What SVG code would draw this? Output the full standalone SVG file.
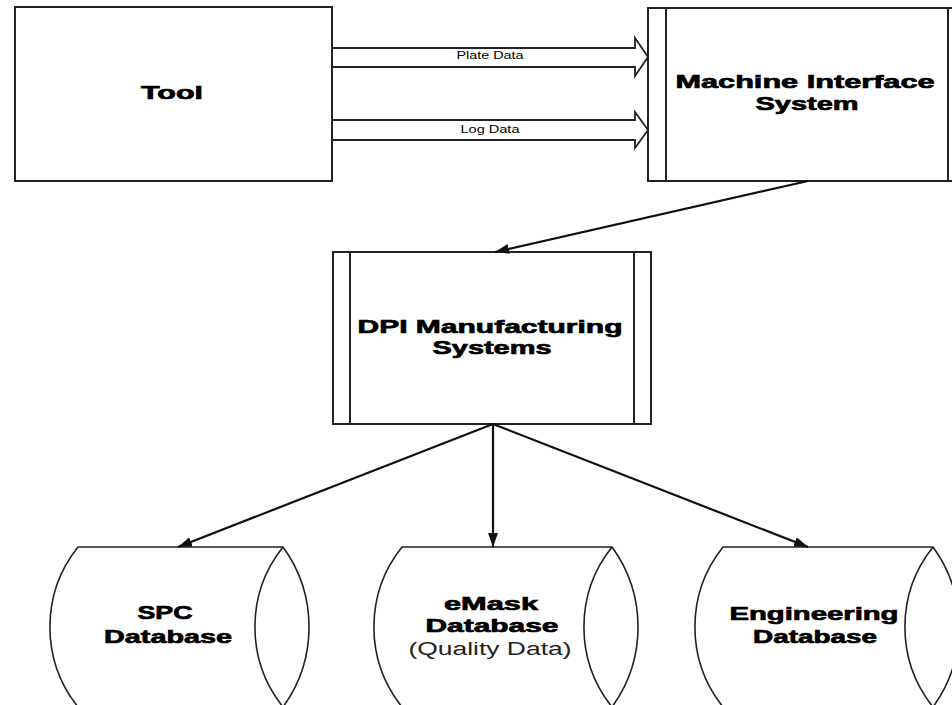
<svg xmlns="http://www.w3.org/2000/svg" width="952" height="705" viewBox="0 0 952 705">
<style>
.box{fill:#fff;stroke:#222;stroke-width:2}
.div{stroke:#222;stroke-width:2}
.cyl{fill:#fff;stroke:#222;stroke-width:1.6}
.flow{fill:none;stroke:#222;stroke-width:1.8}
.conn{fill:none;stroke:#111;stroke-width:2.2}
.t{font-family:"Liberation Sans",Arial,sans-serif;font-weight:bold;font-size:19px;fill:#000;stroke:#000;stroke-width:0.7;text-anchor:middle}
.r{font-family:"Liberation Sans",Arial,sans-serif;font-size:18px;fill:#222;text-anchor:middle}
.s{font-family:"Liberation Sans",Arial,sans-serif;font-size:10px;fill:#000;text-anchor:middle}
</style>
<defs>
<marker id="ah" markerUnits="userSpaceOnUse" markerWidth="16" markerHeight="12" refX="14" refY="5" orient="auto">
<path d="M0,0 L14,5 L0,10 z" fill="#111"/>
</marker>
</defs>
<rect width="952" height="705" fill="#fff"/>

<g id="tool">
<rect class="box" x="15" y="7" width="317" height="174"/>
<text class="t" x="172" y="99" textLength="62" lengthAdjust="spacingAndGlyphs">Tool</text>
</g>

<g id="mis">
<rect class="box" x="648" y="8" width="318" height="173"/>
<line class="div" x1="666" y1="8" x2="666" y2="181"/>
<line class="div" x1="948" y1="8" x2="948" y2="181"/>
<text class="t" x="805" y="88" textLength="259" lengthAdjust="spacingAndGlyphs">Machine Interface</text>
<text class="t" x="807" y="110" textLength="103" lengthAdjust="spacingAndGlyphs">System</text>
</g>

<g id="dpi">
<rect class="box" x="333" y="252" width="318" height="172"/>
<line class="div" x1="350" y1="252" x2="350" y2="424"/>
<line class="div" x1="634" y1="252" x2="634" y2="424"/>
<text class="t" x="490" y="333" textLength="265" lengthAdjust="spacingAndGlyphs">DPI Manufacturing</text>
<text class="t" x="492" y="354" textLength="119" lengthAdjust="spacingAndGlyphs">Systems</text>
</g>

<g id="spc">
<path class="cyl" d="M78,547 L283,547 A136,136 0 0 1 283,707 L78,707 A128,128 0 0 1 78,547 z"/>
<path class="cyl" d="M283,547 A128,128 0 0 0 283,707"/>
<text class="t" x="165" y="619" textLength="55" lengthAdjust="spacingAndGlyphs">SPC</text>
<text class="t" x="168" y="643" textLength="128" lengthAdjust="spacingAndGlyphs">Database</text>
</g>

<g id="emask">
<path class="cyl" d="M402,547 L612,547 A136,136 0 0 1 612,707 L402,707 A128,128 0 0 1 402,547 z"/>
<path class="cyl" d="M612,547 A128,128 0 0 0 612,707"/>
<text class="t" x="491" y="610" textLength="94" lengthAdjust="spacingAndGlyphs">eMask</text>
<text class="t" x="492" y="632" textLength="133" lengthAdjust="spacingAndGlyphs">Database</text>
<text class="r" x="490" y="655" textLength="163" lengthAdjust="spacingAndGlyphs">(Quality Data)</text>
</g>

<g id="engineering">
<path class="cyl" d="M723,547 L933,547 A136,136 0 0 1 933,707 L723,707 A128,128 0 0 1 723,547 z"/>
<path class="cyl" d="M933,547 A128,128 0 0 0 933,707"/>
<text class="t" x="814" y="620" textLength="169" lengthAdjust="spacingAndGlyphs">Engineering</text>
<text class="t" x="815" y="643" textLength="124" lengthAdjust="spacingAndGlyphs">Database</text>
</g>

<g id="connectors">
<polyline class="flow" points="332,48 635,48 635,38 648,57 635,76 635,67 332,67"/>
<text class="s" x="490" y="59" textLength="67" lengthAdjust="spacingAndGlyphs">Plate Data</text>
<polyline class="flow" points="332,120 635,120 635,112 648,130 635,148 635,140 332,140"/>
<text class="s" x="490" y="133" textLength="59" lengthAdjust="spacingAndGlyphs">Log Data</text>
<line class="conn" x1="808" y1="181" x2="495" y2="252" marker-end="url(#ah)"/>
<line class="conn" x1="493" y1="424" x2="178" y2="547" marker-end="url(#ah)"/>
<line class="conn" x1="493" y1="424" x2="493" y2="547" stroke-width="3" marker-end="url(#ah)"/>
<line class="conn" x1="493" y1="424" x2="808" y2="547" marker-end="url(#ah)"/>
</g>
</svg>
